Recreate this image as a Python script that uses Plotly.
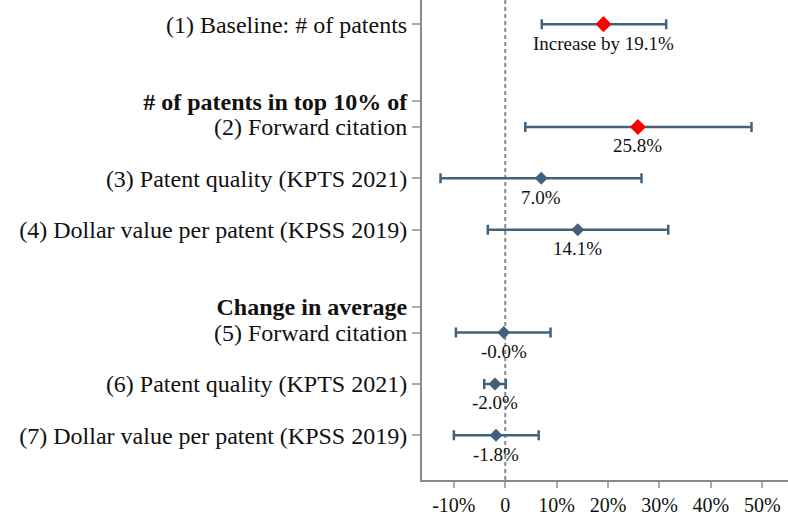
import plotly.graph_objects as go

# ---- data (percent) ----
labels = ["(1) Baseline: # of patents",
          "<b># of patents in top 10% of</b>",
          "(2) Forward citation",
          "(3) Patent quality (KPTS 2021)",
          "(4) Dollar value per patent (KPSS 2019)",
          "<b>Change in average</b>",
          "(5) Forward citation",
          "(6) Patent quality (KPTS 2021)",
          "(7) Dollar value per patent (KPSS 2019)"]
label_pos = [0, 1.5, 2, 3, 4, 5.5, 6, 7, 8]

est_pos = [0, 2, 3, 4, 6, 7, 8]
estimates = [19.1, 25.8, 7.0, 14.1, -0.3, -2.0, -1.8]
ci_low = [7.1, 3.9, -12.6, -3.4, -9.6, -4.1, -10.0]
ci_high = [31.3, 47.9, 26.5, 31.7, 8.8, 0.1, 6.5]
est_text = ["Increase by 19.1%", "25.8%", "7.0%", "14.1%", "-0.0%", "-2.0%", "-1.8%"]
highlight = [True, True, False, False, False, False, False]

xtick_vals = [-10, 0, 10, 20, 30, 40, 50]
xtick_text = ["-10%", "0", "10%", "20%", "30%", "40%", "50%"]

BLUE = "#41617d"
RED = "#ff0000"
FONT = "Liberation Serif"

fig = go.Figure()

for grp in (False, True):
    idx = [i for i, h in enumerate(highlight) if h == grp]
    fig.add_trace(go.Scatter(
        x=[estimates[i] for i in idx],
        y=[est_pos[i] for i in idx],
        mode="markers",
        marker=dict(symbol="diamond", size=12 if grp else 10,
                    color=RED if grp else BLUE,
                    line=dict(width=0)),
        error_x=dict(type="data", symmetric=False,
                     array=[ci_high[i] - estimates[i] for i in idx],
                     arrayminus=[estimates[i] - ci_low[i] for i in idx],
                     color=BLUE, thickness=2.5, width=5),
        showlegend=False, hoverinfo="skip"))

# re-draw red markers on top of the error bars
idx = [i for i, h in enumerate(highlight) if h]
fig.add_trace(go.Scatter(
    x=[estimates[i] for i in idx], y=[est_pos[i] for i in idx],
    mode="markers", marker=dict(symbol="diamond", size=12, color=RED),
    showlegend=False, hoverinfo="skip"))

for x, y, t in zip(estimates, est_pos, est_text):
    fig.add_annotation(x=x, y=y, text=t, showarrow=False, yshift=-19,
                       font=dict(family=FONT, size=19, color="#111"))

fig.add_shape(type="line", x0=0, x1=0, y0=0, y1=1, xref="x", yref="paper",
              line=dict(color="#888", width=2, dash="4px,3px"), layer="below")

fig.update_xaxes(range=[-16.2, 55.0], tickvals=xtick_vals, ticktext=xtick_text,
                 showgrid=False, zeroline=False, showline=True, automargin=False,
                 linecolor="#888", linewidth=2, ticks="outside", ticklen=6,
                 tickcolor="#aaa", tickwidth=1.5,
                 tickfont=dict(family=FONT, size=20, color="#111"))
fig.update_yaxes(range=[8.87, -0.47], tickvals=label_pos, ticktext=labels,
                 showgrid=False, zeroline=False, showline=True, automargin=False,
                 linecolor="#888", linewidth=2, ticks="outside", ticklen=8,
                 tickcolor="#aaa", tickwidth=1.5,
                 tickfont=dict(family=FONT, size=24, color="#111"))

fig.update_layout(width=788, height=518,
                  margin=dict(l=422, r=0, t=0, b=38),
                  plot_bgcolor="white", paper_bgcolor="white",
                  font=dict(family=FONT))

fig.write_html("out.html", config={"displayModeBar": False},
               post_script="document.body.style.margin='0';document.body.style.overflow='hidden';")
